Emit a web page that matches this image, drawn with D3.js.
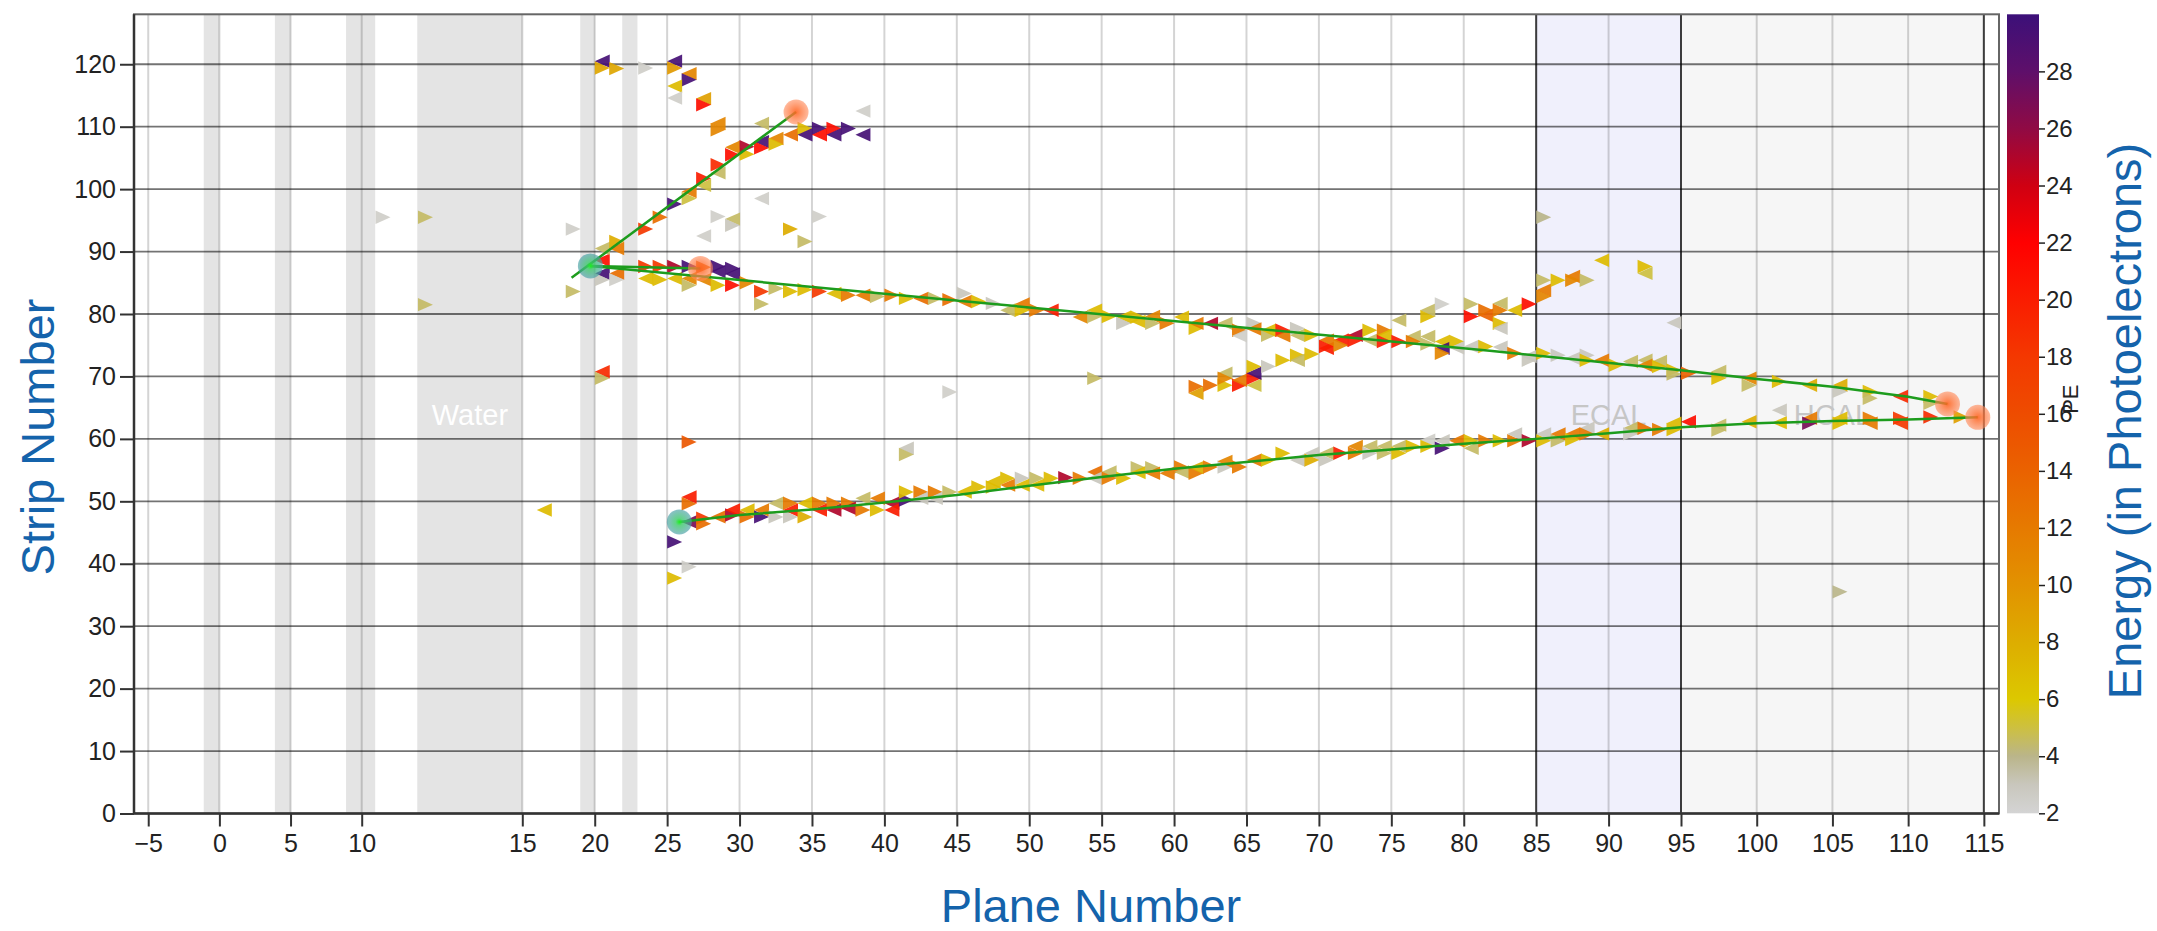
<!DOCTYPE html>
<html>
<head>
<meta charset="utf-8">
<script src="https://cdn.jsdelivr.net/npm/d3@7"></script>
<style>
  html, body { margin: 0; padding: 0; background: #fff; }
  svg text { font-family: "Liberation Sans", Arial, Helvetica, sans-serif; }
</style>
</head>
<body>
<svg id="chart" width="2157" height="931"></svg>
<script>
// ---- Axis ticks ----
const planeTicks = d3.range(-5, 116, 5);
const stripTicks = d3.range(0, 121, 10);
const peTicks = d3.range(2, 29, 2);

// ---- Detector regions (plane units) ----
const targetBands = [[-1.1, 0], [3.9, 5], [8.9, 10.42], [19, 20], [21.9, 22.95]];
const waterBand = [11.73, 15];
const ecalRange = [85, 95];
const hcalRange = [95, 115];
const regionLabels = [
  { text: "Water", plane: 13.37, strip: 62.2, fill: "#ffffff" },
  { text: "ECAL", plane: 90, strip: 62.2, fill: "#c6c6c6" },
  { text: "HCAL", plane: 105, strip: 62.2, fill: "#c6c6c6" }
];

// ---- Hits: [plane, strip, energy (PE), orientation (1 = right, -1 = left)] ----
const upstreamHits = [
  [10.43, 95.5, 2.5, 1], [11.75, 95.5, 4.5, 1], [11.75, 81.5, 4.5, 1],
  [18, 93.6, 2.5, 1], [18, 83.6, 4.5, 1], [20, 70.75, 19, -1], [20, 69.7, 4.5, 1],
  [16, 48.6, 7, -1]
];

const forwardClusterHits = [
  [20, 120.5, 29.5, -1], [20, 119.4, 8.5, 1], [21, 119.3, 8.5, 1], [23, 119.4, 2.5, 1],
  [25, 120.5, 29.5, -1], [25, 119.4, 9.5, 1], [26, 118.5, 11, -1], [26, 117.5, 29.5, 1],
  [25, 116.5, 7, -1], [25, 114.6, 2.5, -1], [27, 114.5, 9, -1], [27, 113.5, 21, 1],
  [28, 110.5, 11, -1], [28, 109.5, 11, 1], [31, 110.5, 4.5, -1], [38, 112.5, 2.5, -1],
  [28, 95.6, 2.5, 1], [27, 92.5, 2.5, -1], [29, 95.2, 4.5, -1], [29, 94.2, 3, 1],
  [31, 98.5, 2.5, -1], [33, 93.6, 8, 1], [34, 91.6, 4.5, 1], [35, 95.6, 2.5, 1],
  [44, 67.5, 2.5, 1], [41, 58.5, 3, -1], [41, 57.5, 4.5, 1], [26, 59.5, 15, 1],
  [25, 43.5, 29.5, 1], [26, 39.5, 2.5, 1], [25, 37.7, 7, 1]
];

const steepTrackHits = [
  [20, 90.5, 4.5, -1], [21, 91.6, 8, 1], [21, 90.5, 12, -1], [23, 93.6, 18, 1],
  [24, 95.5, 13, 1], [25, 97.6, 29.5, 1], [26, 99.6, 12, -1], [26, 98.5, 5, 1],
  [27, 101.7, 20, 1], [27, 100.6, 5, -1], [28, 103.9, 19, 1], [28, 102.6, 4.5, -1],
  [29, 106.7, 11, -1], [29, 105.5, 21, 1], [30, 105.6, 7, 1], [30, 106.8, 25, 1],
  [31, 107.6, 29.5, -1], [31, 106.6, 21, 1], [32, 108.1, 11, -1], [32, 107.2, 7, 1],
  [33, 108.7, 13, -1], [34, 109.7, 7, 1], [34, 108.7, 29.5, -1], [35, 109.7, 29.5, 1],
  [35, 108.7, 21, -1], [36, 109.7, 21, 1], [36, 108.7, 29.5, -1], [37, 109.7, 29.5, 1],
  [38, 108.7, 29.5, -1]
];

const upperTrackHits = [
  [20, 88.6, 21, -1], [20, 86.5, 29.5, -1], [21, 86.5, 13, -1], [20, 85.5, 3, 1],
  [21, 85.5, 2.5, 1], [23, 87.6, 18, 1], [23, 85.7, 7, -1], [24, 87.6, 18, 1],
  [24, 85.5, 7, 1], [25, 87.6, 25, 1], [25, 85.7, 7, -1], [26, 87.6, 29.5, 1],
  [26, 85.7, 11, -1], [26, 84.6, 4.5, 1], [27, 87.5, 14, 1], [27, 85.5, 11, -1],
  [28, 87.6, 29.5, 1], [28, 86.8, 29.5, -1], [28, 84.6, 7, 1], [29, 87.3, 29.5, 1],
  [29, 86.4, 29.5, -1], [29, 84.6, 21, 1], [30, 85, 11, 1], [31, 83.6, 18, 1],
  [31, 81.6, 4.5, 1], [32, 84.1, 4.5, 1], [33, 83.6, 7, 1], [34, 83.9, 7, 1],
  [35, 83.6, 18, 1], [36, 83.3, 7, -1], [37, 83.0, 12, 1], [38, 83.0, 12, -1],
  [39, 82.8, 4.5, 1], [40, 83.0, 12, 1], [41, 82.5, 7, 1], [42, 82.5, 13, -1],
  [43, 82.5, 4.5, 1], [44, 82.3, 13, 1], [45, 83.3, 3, 1], [45, 82.0, 12, -1],
  [46, 82.0, 7, 1], [47, 81.7, 3, 1], [48, 80.6, 4.5, -1], [49, 81.6, 12, -1],
  [49, 80.6, 7, 1], [50, 80.6, 12, 1], [51, 80.6, 20, -1], [53, 79.5, 11, -1],
  [54, 80.6, 7, -1], [54, 79.6, 4.5, 1], [55, 79.6, 7, 1], [56, 79.5, 7, -1],
  [56, 78.5, 3, 1], [57, 79.5, 7, 1], [57, 78.8, 7, -1], [58, 79.6, 11, -1],
  [58, 78.5, 4.5, 1], [59, 78.5, 12, 1], [60, 79.5, 7, -1], [61, 77.7, 7, 1],
  [61, 78.5, 12, -1], [62, 78.5, 25, -1], [63, 78.5, 4.5, -1], [64, 77.4, 12, 1],
  [64, 76.5, 2.5, -1], [65, 78.5, 3, 1], [65, 77.6, 12, -1], [66, 76.6, 4.5, 1],
  [66, 77.4, 7, -1], [67, 77.4, 20, 1], [67, 76.5, 12, -1], [68, 77.7, 3, 1],
  [68, 76.6, 4.5, -1], [69, 76.6, 7, 1], [70, 75.8, 12, -1], [70, 74.8, 20, 1],
  [71, 75.8, 20, -1], [71, 75.0, 11, 1], [72, 76.6, 25, -1], [72, 75.8, 20, 1],
  [73, 77.4, 7, 1], [73, 75.8, 4.5, -1], [74, 77.4, 12, 1], [74, 76.6, 7, -1],
  [74, 75.6, 20, 1], [75, 75.6, 20, 1], [76, 76.4, 4.5, -1], [76, 75.6, 12, 1],
  [77, 76.4, 4.5, -1], [77, 75.2, 4.5, 1], [78, 75.6, 7, -1], [78, 74.5, 29.5, -1],
  [78, 73.7, 11, 1], [79, 75.6, 7, 1], [79, 74.6, 3, -1], [80, 74.8, 3, -1],
  [81, 74.8, 7, 1], [82, 74.7, 3, -1], [83, 73.7, 12, 1], [84, 73.2, 3, -1],
  [84, 72.6, 3, 1], [85, 73.7, 7, 1], [86, 73.4, 3, 1], [87, 72.9, 3, -1],
  [88, 73.4, 3, 1], [88, 72.6, 7, 1], [89, 72.6, 12, -1], [90, 71.8, 7, 1],
  [91, 72.4, 4.5, -1], [92, 72.6, 4.5, -1], [92, 71.8, 11, -1], [93, 72.4, 4.5, -1],
  [93, 71.6, 7, 1], [94, 71.0, 7, 1], [94, 70.4, 4.5, 1], [95, 70.5, 14, 1],
  [97, 70.8, 4.5, -1], [97, 69.7, 7, 1], [99, 69.7, 11, -1], [99, 68.6, 4.5, 1],
  [101, 69.2, 7, 1], [103, 68.6, 8, -1], [105, 68.6, 8, -1], [105, 67.6, 3, 1],
  [107, 67.6, 7, 1], [107, 66.5, 4.5, 1], [109, 66.8, 19, -1], [111, 66.8, 7, 1],
  [111, 65.7, 4.5, 1]
];

const branchHits = [
  [54, 69.7, 4.5, 1], [61, 68.4, 13, 1], [61, 67.3, 9, -1], [62, 68.6, 13, 1],
  [63, 68.6, 7, 1], [63, 70.5, 4.5, -1], [63, 69.7, 11, 1], [64, 68.6, 20, 1],
  [64, 69.4, 12, -1], [65, 68.6, 5, -1], [65, 69.7, 20, 1], [65, 70.5, 29.5, -1],
  [65, 71.6, 7, 1], [66, 71.6, 3, 1], [67, 72.6, 7, 1], [68, 73.4, 7, 1],
  [68, 72.6, 4.5, -1], [69, 73.6, 7, 1], [70, 74.5, 20, -1],
  [75, 79.0, 4.5, -1], [77, 79.6, 7, 1], [77, 80.6, 4.5, -1], [78, 81.6, 2.5, 1],
  [80, 81.6, 4.5, 1], [80, 79.6, 21, 1], [81, 79.8, 14, -1], [82, 81.7, 4.5, -1],
  [81, 80.6, 13, 1], [82, 80.6, 12, 1], [83, 80.6, 7, -1], [84, 81.6, 21, 1],
  [82, 78.5, 7, 1], [82, 77.7, 3, -1], [85, 83.8, 12, -1], [85, 82.8, 11, 1],
  [85, 85.4, 4.5, 1], [86, 85.4, 7, 1], [87, 86.0, 12, -1], [87, 85.4, 11, 1],
  [88, 85.4, 4.5, 1], [89, 88.6, 7, -1], [92, 87.6, 7, 1], [92, 86.5, 5, -1],
  [94, 78.6, 3, -1], [85, 95.5, 4, 1]
];

const lowerTrackHits = [
  [26, 50.7, 20, -1], [26, 49.6, 13, 1], [26, 46.7, 27, -1], [27, 47.3, 18, 1],
  [27, 46.4, 13, 1], [28, 47.5, 13, -1], [29, 47.8, 25, 1], [29, 48.6, 20, -1],
  [30, 48.6, 7, -1], [30, 47.5, 13, 1], [31, 47.5, 29.5, 1], [31, 48.6, 12, -1],
  [32, 49.7, 4.5, -1], [32, 47.5, 3, 1], [33, 49.7, 12, 1], [33, 48.6, 20, -1],
  [33, 47.5, 3, 1], [34, 49.7, 7, -1], [34, 47.5, 8, 1], [35, 49.7, 12, 1],
  [35, 48.6, 20, -1], [36, 49.7, 12, 1], [36, 48.6, 25, -1], [37, 49.7, 12, 1],
  [37, 48.9, 25, -1], [38, 50.5, 4.5, -1], [38, 48.6, 12, 1], [39, 50.5, 12, -1],
  [39, 48.6, 7, 1], [40, 49.7, 25, -1], [40, 48.6, 20, -1], [41, 50.2, 29.5, 1],
  [41, 51.5, 7, 1], [42, 51.5, 12, 1], [42, 50.5, 3, -1], [43, 51.5, 12, 1],
  [43, 50.5, 3, -1], [44, 51.5, 4.5, 1], [45, 51.5, 7, -1], [46, 52.3, 7, 1],
  [47, 52.3, 7, 1], [47, 53.1, 7, -1], [48, 53.7, 7, 1], [48, 52.6, 12, -1],
  [49, 53.7, 3, 1], [49, 52.6, 7, -1], [50, 53.7, 4.5, 1], [50, 52.6, 7, -1],
  [51, 53.7, 7, 1], [52, 53.8, 25, 1], [53, 53.7, 12, 1], [54, 54.7, 13, -1],
  [54, 53.7, 3, -1], [55, 54.7, 4.5, -1], [55, 53.7, 12, 1], [56, 53.7, 7, 1],
  [57, 55.4, 4.5, 1], [57, 54.6, 7, -1], [58, 55.4, 4.5, 1], [58, 54.5, 12, -1],
  [59, 54.5, 12, -1], [60, 55.5, 12, 1], [60, 54.7, 4.5, -1], [61, 54.5, 12, 1],
  [61, 55.4, 8, -1], [62, 55.5, 12, 1], [63, 55.5, 3, 1], [63, 56.4, 11, -1],
  [64, 55.5, 12, 1], [65, 56.6, 12, -1], [66, 56.6, 7, 1], [67, 57.7, 7, 1],
  [68, 56.6, 3, -1], [69, 57.7, 3, -1], [69, 56.6, 8, 1], [70, 57.7, 4.5, -1],
  [70, 56.6, 3, 1], [71, 57.7, 20, 1], [72, 58.8, 11, -1], [72, 57.7, 12, 1],
  [73, 58.8, 4.5, -1], [73, 57.7, 3, 1], [74, 58.8, 4.5, -1], [74, 57.7, 4.5, 1],
  [75, 58.8, 4.5, -1], [75, 57.7, 7, 1], [76, 58.8, 7, 1], [77, 59.8, 2.5, -1],
  [77, 58.8, 7, 1], [78, 59.7, 3, -1], [78, 58.5, 29.5, 1], [79, 59.7, 12, -1],
  [80, 59.7, 7, 1], [80, 58.5, 4.5, -1], [81, 59.7, 12, 1], [82, 59.7, 7, 1],
  [83, 59.7, 12, 1], [83, 60.8, 3, -1], [84, 59.7, 25, 1], [85, 59.7, 7, 1],
  [85, 60.8, 3, -1], [86, 59.7, 4.5, 1], [86, 60.8, 12, -1], [87, 60.8, 12, -1],
  [87, 59.9, 7, 1], [88, 61.7, 3, -1], [88, 60.8, 12, 1], [89, 60.8, 8, -1],
  [91, 61.7, 4.5, -1], [91, 60.8, 3, 1], [92, 61.7, 13, 1], [93, 61.5, 12, 1],
  [94, 62.5, 7, -1], [94, 61.5, 7, 1], [95, 62.75, 21, -1], [97, 62.2, 4.5, -1],
  [97, 61.4, 4.5, 1], [99, 62.75, 8, -1], [101, 62.6, 7, -1], [101, 64.6, 3, -1],
  [103, 63.3, 12, -1], [103, 62.5, 27, 1], [105, 63.3, 7, -1], [105, 62.5, 7, 1],
  [107, 63.3, 12, 1], [107, 62.5, 12, -1], [109, 63.3, 18, 1], [109, 62.5, 18, -1],
  [111, 63.5, 19, 1], [113, 63.5, 9, 1], [105, 35.5, 4, 1]
];

// ---- Reconstructed tracks and vertices ----
const tracks = [
  [[18.4, 85.8], [33.9, 112.35]],
  [[19.7, 87.7], [27.3, 87.3]],
  [[19.7, 87.7], [46.6, 81.8], [81.8, 74.1], [95, 71.0], [100, 69.6], [105, 68.35], [110, 66.75], [112.6, 65.6]],
  [[25.84, 46.7], [30, 47.8], [35, 48.7], [40, 49.8], [45, 51.0], [50, 52.5], [55, 53.9], [60, 55.2],
   [65, 56.3], [70, 57.4], [75, 58.3], [80, 59.2], [85, 60.0], [90, 60.9], [95, 61.85], [100, 62.5],
   [105, 62.86], [110, 63.1], [114.6, 63.45]]
];
const vertices = [[19.7, 87.7], [25.84, 46.7]];
const trackEnds = [[33.9, 112.35], [27.3, 87.3], [112.6, 65.6], [114.6, 63.45]];

// ---- Energy colour map ----
const peStops = [2, 3, 4, 5, 6, 8, 10, 12, 14, 16, 18, 20, 22, 24, 26, 28, 30];
const peColors = ["#d4d4d4", "#c9c7bd", "#bab58a", "#cdc040", "#dcc800", "#ddad00", "#e29200",
  "#e67a00", "#ea6200", "#ee4c00", "#f43800", "#fa1c00", "#ff0000", "#cf0012", "#900a44",
  "#5e0f6a", "#3c1079"];

// ---- Layout ----
const svg = d3.select("#chart");
const plot = { left: 134, right: 1999, top: 14.3, bottom: 813.5 };

const x = d3.scaleLinear()
  .domain([-6, 10, 15, 95, 116])
  .range([plot.left, 361.7, 522.3, 1681, plot.right]);
const y = d3.scaleLinear().domain([0, 128]).range([plot.bottom, plot.top]);
const color = d3.scaleLinear().domain(peStops).range(peColors).clamp(true);
const cbar = { x: 2007, w: 32 };
const cy = d3.scaleLinear().domain([2, 30]).range([813.3, 14.3]);

const defs = svg.append("defs");

// Plot background and detector regions
const bg = svg.append("g");
bg.append("rect").attr("x", plot.left).attr("y", plot.top)
  .attr("width", plot.right - plot.left).attr("height", plot.bottom - plot.top).attr("fill", "#fff");
bg.append("rect").attr("x", x(ecalRange[0])).attr("y", plot.top)
  .attr("width", x(ecalRange[1]) - x(ecalRange[0])).attr("height", plot.bottom - plot.top)
  .attr("fill", "#f0f0fc");
bg.append("rect").attr("x", x(hcalRange[0])).attr("y", plot.top)
  .attr("width", x(hcalRange[1]) - x(hcalRange[0])).attr("height", plot.bottom - plot.top)
  .attr("fill", "#f6f6f6");
bg.selectAll("rect.band").data(targetBands.concat([waterBand])).join("rect")
  .attr("class", "band")
  .attr("x", d => x(d[0])).attr("y", plot.top)
  .attr("width", d => x(d[1]) - x(d[0])).attr("height", plot.bottom - plot.top)
  .attr("fill", "#e4e4e4");

// Grid
const grid = svg.append("g");
grid.selectAll("line.v").data(planeTicks).join("line")
  .attr("class", "v")
  .attr("x1", d => x(d)).attr("x2", d => x(d))
  .attr("y1", plot.top).attr("y2", plot.bottom)
  .attr("stroke", "#000").attr("stroke-opacity", 0.17).attr("stroke-width", 2);
grid.selectAll("line.h").data(stripTicks.filter(d => d > 0)).join("line")
  .attr("class", "h")
  .attr("x1", plot.left).attr("x2", plot.right)
  .attr("y1", d => y(d)).attr("y2", d => y(d))
  .attr("stroke", "#000").attr("stroke-opacity", 0.55).attr("stroke-width", 1.8);
grid.selectAll("line.edge").data([ecalRange[0], ecalRange[1], hcalRange[1]]).join("line")
  .attr("class", "edge")
  .attr("x1", d => x(d)).attr("x2", d => x(d))
  .attr("y1", plot.top).attr("y2", plot.bottom)
  .attr("stroke", "#000").attr("stroke-opacity", 0.7).attr("stroke-width", 2);

// Region labels
svg.append("g").selectAll("text").data(regionLabels).join("text")
  .attr("x", d => x(d.plane)).attr("y", d => y(d.strip))
  .attr("text-anchor", "middle")
  .attr("font-size", 29)
  .attr("fill", d => d.fill)
  .text(d => d.text);

// Frame
svg.append("rect").attr("x", plot.left).attr("y", plot.top)
  .attr("width", plot.right - plot.left).attr("height", plot.bottom - plot.top)
  .attr("fill", "none").attr("stroke", "#666").attr("stroke-width", 2);

// Hits as strip triangles: base spans two strip pitches, apex at the strip centre
const triW = 15;
const triHalf = 6.7;
function triangle(h) {
  const [p, s, , dir] = h;
  const x0 = x(p), x1 = x0 + triW;
  const yMid = y(s), yTop = yMid - triHalf, yBot = yMid + triHalf;
  return dir > 0
    ? `M${x0},${yTop}L${x0},${yBot}L${x1},${yMid}Z`
    : `M${x1},${yTop}L${x1},${yBot}L${x0},${yMid}Z`;
}
const allHits = [].concat(upstreamHits, forwardClusterHits, branchHits,
  lowerTrackHits, upperTrackHits, steepTrackHits);
svg.append("g").selectAll("path").data(allHits).join("path")
  .attr("d", triangle)
  .attr("fill", d => color(d[2]))
  .attr("fill-opacity", 0.92);

// Tracks
const line = d3.line().x(d => x(d[0])).y(d => y(d[1]));
svg.append("g").selectAll("path").data(tracks).join("path")
  .attr("d", line)
  .attr("fill", "none").attr("stroke", "#1d9c1d").attr("stroke-width", 2.5);

// Vertex and end-point markers
const gv = defs.append("radialGradient").attr("id", "vtx");
gv.append("stop").attr("offset", "0%").attr("stop-color", "#1cf21c").attr("stop-opacity", 1);
gv.append("stop").attr("offset", "30%").attr("stop-color", "#3cc86a").attr("stop-opacity", 0.8);
gv.append("stop").attr("offset", "100%").attr("stop-color", "#4a9ea8").attr("stop-opacity", 0.65);
const ge = defs.append("radialGradient").attr("id", "endpt");
ge.append("stop").attr("offset", "0%").attr("stop-color", "#ff6420").attr("stop-opacity", 0.9);
ge.append("stop").attr("offset", "100%").attr("stop-color", "#ff8a5a").attr("stop-opacity", 0.6);

svg.append("g").selectAll("circle").data(trackEnds).join("circle")
  .attr("cx", d => x(d[0])).attr("cy", d => y(d[1])).attr("r", 12.5)
  .attr("fill", "url(#endpt)");
svg.append("g").selectAll("circle").data(vertices).join("circle")
  .attr("cx", d => x(d[0])).attr("cy", d => y(d[1])).attr("r", 12.5)
  .attr("fill", "url(#vtx)");

// Axes
const xAxis = svg.append("g")
  .attr("transform", `translate(0,${plot.bottom})`)
  .call(d3.axisBottom(x).tickValues(planeTicks).tickSize(13).tickPadding(8).tickSizeOuter(0));
const yAxis = svg.append("g")
  .attr("transform", `translate(${plot.left},0)`)
  .call(d3.axisLeft(y).tickValues(stripTicks).tickSize(14).tickPadding(4).tickSizeOuter(0));
[xAxis, yAxis].forEach(g => {
  g.selectAll("text").attr("font-size", 25).attr("fill", "#222")
    .attr("font-family", "'Liberation Sans', Arial, sans-serif");
  g.selectAll("line").attr("stroke", "#333").attr("stroke-width", 2);
  g.select(".domain").attr("stroke", "#333").attr("stroke-width", 2.5);
});
yAxis.select(".domain").attr("d", `M0,${plot.bottom}V${plot.top}`);
xAxis.select(".domain").attr("d", `M${plot.left},0H${plot.right}`);

// Colour bar
const grad = defs.append("linearGradient").attr("id", "peGrad")
  .attr("x1", 0).attr("y1", 1).attr("x2", 0).attr("y2", 0);
peStops.forEach(v => grad.append("stop")
  .attr("offset", (v - 2) / 28).attr("stop-color", color(v)));
svg.append("rect").attr("x", cbar.x).attr("y", cy(30))
  .attr("width", cbar.w).attr("height", cy(2) - cy(30)).attr("fill", "url(#peGrad)");
const cAxis = svg.append("g").attr("transform", `translate(${cbar.x + cbar.w},0)`)
  .call(d3.axisRight(cy).tickValues(peTicks).tickSize(6).tickPadding(1));
cAxis.select(".domain").remove();
cAxis.selectAll("text").attr("font-size", 24).attr("fill", "#222")
  .attr("font-family", "'Liberation Sans', Arial, sans-serif");
cAxis.selectAll("line").attr("stroke", "#222").attr("stroke-width", 1.5);
svg.append("text")
  .attr("transform", `translate(2078,${(cy(2) + cy(30)) / 2}) rotate(-90)`)
  .attr("font-size", 22).attr("fill", "#222").text("PE");

// Axis titles
const titleColor = "#1463ab";
svg.append("text").attr("x", 1091).attr("y", 922).attr("text-anchor", "middle")
  .attr("font-size", 47).attr("fill", titleColor).text("Plane Number");
svg.append("text").attr("transform", "translate(54,437) rotate(-90)").attr("text-anchor", "middle")
  .attr("font-size", 47).attr("fill", titleColor).text("Strip Number");
svg.append("text").attr("transform", "translate(2141,421) rotate(-90)").attr("text-anchor", "middle")
  .attr("font-size", 47).attr("fill", titleColor).text("Energy (in Photoelectrons)");
</script>
</body>
</html>
